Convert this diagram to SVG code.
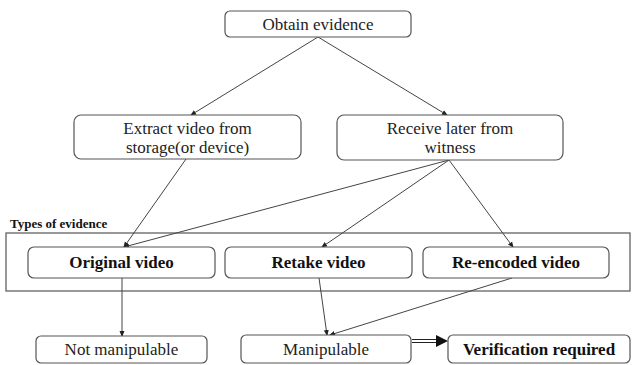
<svg xmlns="http://www.w3.org/2000/svg" width="632" height="365" viewBox="0 0 632 365">
<style>
.box{fill:#fff;stroke:#555;stroke-width:1.2}
.t{font-family:"Liberation Serif","Times New Roman",Tinos,"DejaVu Serif",serif;font-size:17px;fill:#222;text-anchor:middle}
.b{font-weight:bold;fill:#111}
.c{stroke:#444;stroke-width:1;fill:none;marker-end:url(#ah)}
</style>
<defs>
<marker id="ah" markerWidth="6" markerHeight="6" refX="5" refY="3" orient="auto" markerUnits="userSpaceOnUse"><path d="M0,0.5 L6,3 L0,5.5 Z" fill="#222"/></marker>
</defs>
<rect x="0" y="0" width="632" height="365" fill="#fff"/>
<g id="frame">
<rect x="6" y="233" width="624" height="58" fill="none" stroke="#555" stroke-width="1.2"/>
<text x="10" y="228" style="font-family:'Liberation Serif','Times New Roman',Tinos,'DejaVu Serif',serif;font-size:13px;font-weight:bold;fill:#111">Types of evidence</text>
</g>
<g id="connectors">
<line class="c" x1="318" y1="37" x2="191" y2="115"/>
<line class="c" x1="318" y1="37" x2="447" y2="115"/>
<line class="c" x1="186" y1="159" x2="124" y2="247"/>
<line class="c" x1="449" y1="160" x2="124" y2="247"/>
<line class="c" x1="449" y1="160" x2="322" y2="247"/>
<line class="c" x1="449" y1="160" x2="513" y2="247"/>
<line class="c" x1="122" y1="278" x2="122" y2="336"/>
<line class="c" x1="319" y1="278" x2="327" y2="335"/>
<line class="c" x1="512" y1="278" x2="330" y2="335"/>
<g id="double">
<line x1="412" y1="339.5" x2="438" y2="339.5" stroke="#222" stroke-width="1"/>
<line x1="412" y1="342.5" x2="438" y2="342.5" stroke="#222" stroke-width="1"/>
<path d="M436,335 L448,341 L436,347 Z" fill="#111"/>
</g>
</g>
<g id="obtain"><rect class="box" x="225" y="11" width="186" height="26" rx="5"/><text class="t" x="318" y="30">Obtain evidence</text></g>
<g id="extract"><rect class="box" x="74" y="115" width="227" height="44" rx="7"/><text class="t" x="187.5" y="134">Extract video from</text><text class="t" x="187.5" y="153">storage(or device)</text></g>
<g id="receive"><rect class="box" x="337" y="115" width="226" height="45" rx="7"/><text class="t" x="450" y="134">Receive later from</text><text class="t" x="450" y="153">witness</text></g>
<g id="original"><rect class="box" x="28" y="247" width="187" height="31" rx="6"/><text class="t b" x="121.5" y="268">Original video</text></g>
<g id="retake"><rect class="box" x="225" y="247" width="187" height="31" rx="6"/><text class="t b" x="318.5" y="268">Retake video</text></g>
<g id="reencoded"><rect class="box" x="423" y="247" width="186" height="31" rx="6"/><text class="t b" x="516" y="268">Re-encoded video</text></g>
<g id="notmanip"><rect class="box" x="36" y="336" width="171" height="27" rx="5"/><text class="t" x="121.5" y="355">Not manipulable</text></g>
<g id="manip"><rect class="box" x="241" y="335" width="170" height="28" rx="5"/><text class="t" x="326" y="355">Manipulable</text></g>
<g id="verify"><rect class="box" x="448" y="335" width="182" height="28" rx="5"/><text class="t b" x="539" y="355">Verification required</text></g>
</svg>
